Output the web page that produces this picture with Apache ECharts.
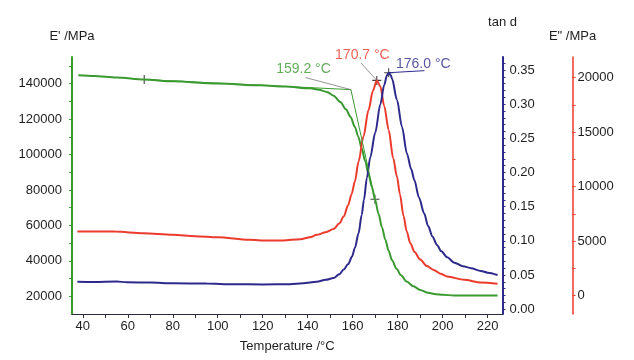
<!DOCTYPE html>
<html><head><meta charset="utf-8">
<script src="https://cdn.jsdelivr.net/npm/echarts@6/dist/echarts.min.js"></script>
<style>html,body{margin:0;padding:0;background:#fff}#c{width:634px;height:360px}</style>
</head><body><div id="c"></div>
<script>
// ---- data ----
const storageT = [38,45,55,67.3,80,100,119,130,141,145,148.5,151.5,154.5,157,159,161,162.5,164,165.5,167,168.5,169.9,171.5,173,174.5,176,177.5,179.5,181.5,184,187,190,193.5,197,200,205,215,224.4];
const storageV = [144700,144300,143500,142300,141300,140000,139000,138300,137300,136500,135300,133200,129600,125500,121300,115500,110000,103500,96500,89000,81800,74700,66500,59000,52000,45500,40300,35500,31800,28300,25600,23600,22000,21200,20800,20500,20400,20400];

const lossT = [37.6,45,54.4,67,80,90,100,114,122,129,136.7,141,144,148,151.5,154,156,158,159.5,161,162.6,164.8,167,169,170.7,172.3,174,176,178,179.7,181,182.6,184,185.6,187.5,190,193,196,199,202,209.6,217,224.4];
const lossV = [5870,5880,5870,5720,5570,5450,5350,5110,5050,5050,5170,5350,5570,5800,6100,6600,7250,8300,9300,10500,12300,14600,17000,18800,19750,19200,17400,15200,12600,10900,9300,7300,5900,4800,4000,3300,2700,2350,2000,1750,1440,1190,1070];

const tanT = [37.6,45,55,59.6,70,80.3,95,107,120,132,138,144,148,151.5,154,156,158,159.7,161,162.6,164,165,166.3,167.8,170,172.3,174,175.2,176,177,177.5,179.7,181.9,184.1,186,187.4,189.5,191.8,193.5,195.5,197.5,199.3,202,205.2,209,212.6,217,220,224.4];
const tanV = [0.0403,0.0400,0.0405,0.0395,0.039,0.038,0.0375,0.0366,0.0362,0.0366,0.038,0.0403,0.043,0.0455,0.051,0.058,0.066,0.077,0.090,0.111,0.138,0.160,0.192,0.222,0.258,0.300,0.328,0.342,0.346,0.342,0.337,0.306,0.267,0.228,0.205,0.189,0.163,0.140,0.122,0.106,0.094,0.085,0.076,0.068,0.063,0.060,0.056,0.0535,0.050];

// evaluation constructions
const onsetT = 159.2, onsetV = 136600;
const baseTangentT = [67.3, 159.2], baseTangentV = [142300, 136600];
const slopeTangentT = [159.2, 169.9], slopeTangentV = [136600, 74700];
const markerStorage = [[67.3,142300],[169.9,74700]];
const peakLoss = [170.7, 19750];
const peakTan = [176.0, 0.346];
const labelTexts = ['159.2 °C','170.7 °C','176.0 °C'];

// axis ticks / labels
const xTicks = [40,50,60,70,80,90,100,110,120,130,140,150,160,170,180,190,200,210,220];
const xLabels = [40,60,80,100,120,140,160,180,200,220];
const eTicks = [20000,30000,40000,50000,60000,70000,80000,90000,100000,110000,120000,130000,140000,150000];
const eLabels = [20000,40000,60000,80000,100000,120000,140000];
const tanTicks = [0,0.01,0.02,0.03,0.04,0.05,0.06,0.07,0.08,0.09,0.10,0.11,0.12,0.13,0.14,0.15,0.16,0.17,0.18,0.19,0.20,0.21,0.22,0.23,0.24,0.25,0.26,0.27,0.28,0.29,0.30,0.31,0.32,0.33,0.34,0.35,0.36];
const tanLabels = [0,0.05,0.10,0.15,0.20,0.25,0.30,0.35];
const lossTicks = [0,2500,5000,7500,10000,12500,15000,17500,20000];
const lossLabels = [0,5000,10000,15000,20000];

const GREEN = '#3a9a30', RED = '#ec3a2c', BLUE = '#2e2a8c', INK = '#1e1e1e';
const FONT = 'Liberation Sans, Arial, Helvetica, sans-serif';
const zip = (a, b) => a.map((v, i) => [v, b[i]]);

const chart = echarts.init(document.getElementById('c'), null, {renderer: 'canvas'});
const yCommon = (color, width) => ({
  type: 'value', splitLine: {show: false},
  axisLine: {show: true, lineStyle: {color, width}},
  nameTextStyle: {color: INK, fontSize: 13, fontFamily: FONT},
});
chart.setOption({
  animation: false,
  textStyle: {fontFamily: FONT},
  grid: {left: 72, right: 131.5, top: 57, bottom: 46, containLabel: false},
  xAxis: {
    type: 'value', min: 35.2, max: 226.6,
    name: 'Temperature /°C', nameLocation: 'middle', nameGap: 26,
    nameTextStyle: {color: INK, fontSize: 13, fontFamily: FONT},
    splitLine: {show: false},
    axisLine: {show: true, onZero: false, lineStyle: {color: '#2a2a3a', width: 1}},
    axisTick: {show: true, length: 4, customValues: xTicks, lineStyle: {color: '#2a2a3a'}},
    axisLabel: {customValues: xLabels, color: INK, fontSize: 13, margin: 6, formatter: v => String(v)}
  },
  yAxis: [
    Object.assign(yCommon(GREEN, 2), {
      position: 'left', min: 10000, max: 155000,
      name: "E' /MPa", nameLocation: 'end', nameGap: 14,
      axisTick: {show: true, length: 3, customValues: eTicks, lineStyle: {color: GREEN}},
      axisLabel: {customValues: eLabels, color: INK, fontSize: 13, margin: 10, formatter: v => String(v)}
    }),
    Object.assign(yCommon(BLUE, 2), {
      position: 'right', offset: 0, min: -0.007, max: 0.369,
      name: 'tan d', nameLocation: 'end', nameGap: 28,
      axisTick: {show: true, length: 3, customValues: tanTicks, lineStyle: {color: BLUE}},
      axisLabel: {customValues: tanLabels, color: INK, fontSize: 13, margin: 7, formatter: v => v.toFixed(2)}
    }),
    Object.assign(yCommon(RED, 1.5), {
      position: 'right', offset: 70, min: -1700, max: 21900,
      name: 'E" /MPa', nameLocation: 'end', nameGap: 14,
      axisTick: {show: true, length: 3, customValues: lossTicks, lineStyle: {color: RED}},
      axisLabel: {customValues: lossLabels, color: INK, fontSize: 13, margin: 5, formatter: v => String(v)}
    })
  ],
  series: [
    {type: 'line', name: "E'", yAxisIndex: 0, data: zip(storageT, storageV), showSymbol: false, smooth: 0.3, smoothMonotone: 'x',
     lineStyle: {color: GREEN, width: 2}},
    {type: 'line', name: 'E"', yAxisIndex: 2, data: zip(lossT, lossV), showSymbol: false, smooth: 0.3, smoothMonotone: 'x',
     lineStyle: {color: RED, width: 2}},
    {type: 'line', name: 'tan d', yAxisIndex: 1, data: zip(tanT, tanV), showSymbol: false, smooth: 0.3, smoothMonotone: 'x',
     lineStyle: {color: BLUE, width: 2}},
    // onset tangents
    {type: 'line', yAxisIndex: 0, data: zip(baseTangentT, baseTangentV), showSymbol: false, lineStyle: {color: GREEN, width: 1}},
    {type: 'line', yAxisIndex: 0, data: zip(slopeTangentT, slopeTangentV), showSymbol: false, lineStyle: {color: GREEN, width: 1}},
    // leader lines
    {type: 'line', yAxisIndex: 0, data: [[139, 143400], [onsetT, onsetV]], showSymbol: false, lineStyle: {color: '#7a7a7a', width: 0.8}},
    {type: 'line', yAxisIndex: 2, data: [[163.7, 21350], peakLoss], showSymbol: false, clip: false, lineStyle: {color: '#7a7a7a', width: 0.8}},
    {type: 'line', yAxisIndex: 1, data: [peakTan, [191.9, 0.349]], showSymbol: false, lineStyle: {color: BLUE, width: 1}},
    // cross markers
    {type: 'scatter', yAxisIndex: 0, data: markerStorage, symbol: 'path://M4.4,0H5.6V10H4.4ZM0,4.4H10V5.6H0Z', symbolSize: 9, itemStyle: {color: '#111'}},
    {type: 'scatter', yAxisIndex: 2, data: [peakLoss], symbol: 'path://M4.4,0H5.6V10H4.4ZM0,4.4H10V5.6H0Z', symbolSize: 9, itemStyle: {color: '#111'}},
    {type: 'scatter', yAxisIndex: 1, data: [peakTan], symbol: 'path://M4.4,0H5.6V10H4.4ZM0,4.4H10V5.6H0Z', symbolSize: 9, itemStyle: {color: '#111'}},
    // annotation texts
    {type: 'scatter', yAxisIndex: 0, clip: false, data: [[138.1, 147900]], symbolSize: 1, itemStyle: {color: 'rgba(0,0,0,0)'},
     label: {show: true, position: 'inside', formatter: labelTexts[0], color: GREEN, fontSize: 14}},
    {type: 'scatter', yAxisIndex: 2, clip: false, data: [[164.3, 22080]], symbolSize: 1, itemStyle: {color: 'rgba(0,0,0,0)'},
     label: {show: true, position: 'inside', formatter: labelTexts[1], color: RED, fontSize: 14}},
    {type: 'scatter', yAxisIndex: 1, clip: false, data: [[191.4, 0.3586]], symbolSize: 1, itemStyle: {color: 'rgba(0,0,0,0)'},
     label: {show: true, position: 'inside', formatter: labelTexts[2], color: BLUE, fontSize: 14}}
  ]
});
</script></body></html>
